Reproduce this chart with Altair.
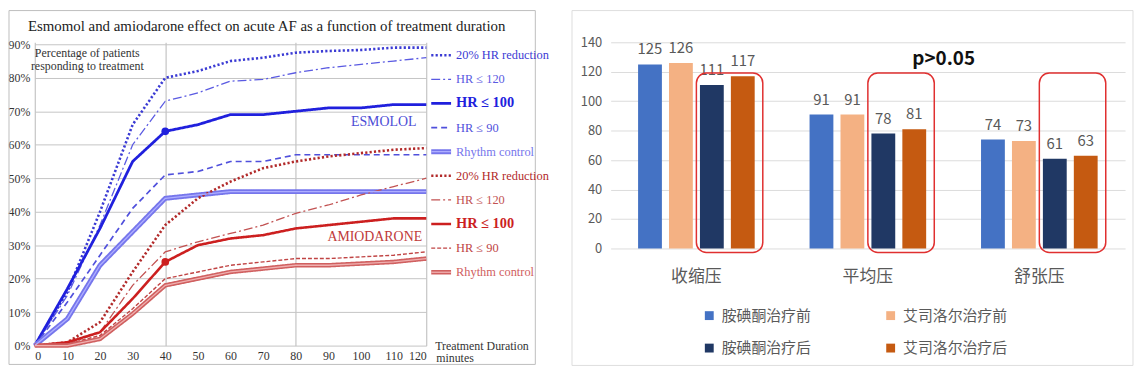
import altair as alt
import pandas as pd

SERIF = "Liberation Serif"
CJK = "Noto Sans CJK SC"

# ---------------- left panel data ----------------
minutes = [0, 10, 20, 30, 40, 50, 60, 70, 80, 90, 100, 110, 120]
esm_hr20 = [0, 16, 40, 66, 80, 82, 85, 86, 87.5, 88, 88.3, 89, 89]
esm_hr120 = [0, 15, 36, 60, 73, 75.5, 79, 79.5, 81.5, 83, 84, 85, 86]
esm_hr100 = [0, 17, 35, 55, 64, 66, 69, 69, 70, 71, 71, 72, 72]
esm_hr90 = [0, 13, 27, 41, 51, 52, 55, 55, 57, 57, 57, 57, 57]
esm_rc = [0, 8, 24, 34, 44, 45, 46, 46, 46, 46, 46, 46, 46]
ami_hr20 = [0, 1, 7, 22, 36, 44, 49, 53, 55, 56.5, 57.5, 58.5, 59]
ami_hr120 = [0, 0.5, 4, 18, 28, 31, 33.5, 36, 39.5, 42, 45, 47.5, 50]
ami_hr100 = [0, 1, 4, 14, 25, 30, 32, 33, 35, 36, 37, 38, 38]
ami_hr90 = [0, 0.5, 3, 11, 20, 22, 24, 25, 26, 26, 26.5, 27, 28]
ami_rc = [0, 0, 2, 9.5, 18, 20, 22, 23, 24, 24, 24.5, 25, 26]

series_keys = ["E20", "E120", "E100", "E90", "ERC", "A20", "A120", "A100", "A90", "ARC"]
series_labels = ["20% HR reduction", "HR ≤ 120", "HR ≤ 100", "HR ≤ 90", "Rhythm control",
                 "20% HR reduction", "HR ≤ 120", "HR ≤ 100", "HR ≤ 90", "Rhythm control"]
series_values = [esm_hr20, esm_hr120, esm_hr100, esm_hr90, esm_rc,
                 ami_hr20, ami_hr120, ami_hr100, ami_hr90, ami_rc]
y_ticks = [0, 10, 20, 30, 40, 50, 60, 70, 80, 90]

line_colors = ["#3b3bd4", "#5a5ae2", "#2020dd", "#5050dc", "#7676ec",
               "#b22a2a", "#c25252", "#cc1f1f", "#c04444", "#d06060"]
line_dashes = [[2.2, 2.2], [9, 3, 2, 3], [1, 0], [6, 4], [1, 0],
               [2.2, 2.2], [9, 3, 2, 3], [1, 0], [4, 2], [1, 0]]
line_widths = [2.6, 1.3, 2.8, 1.7, 5, 2.6, 1.3, 2.6, 1.4, 4.5]

rows = []
for key, vals in zip(series_keys, series_values):
    for m, v in zip(minutes, vals):
        rows.append({"minute": m, "pct": v, "series": key})
lines_df = pd.DataFrame(rows)
legend_df = pd.DataFrame({"series": series_keys, "label": series_labels})
one = pd.DataFrame({"a": [0]})

color_enc = alt.Color("series:N", scale=alt.Scale(domain=series_keys, range=line_colors), legend=None)
dash_enc = alt.StrokeDash("series:N", scale=alt.Scale(domain=series_keys, range=line_dashes), legend=None)
width_enc = alt.StrokeWidth("series:N", scale=alt.Scale(type="ordinal", domain=series_keys, range=line_widths),
                            legend=None)

x_axis = alt.Axis(values=minutes, title=None, labelFont=SERIF, labelFontSize=12,
                  labelColor="#333333", labelPadding=5, domain=False, ticks=False,
                  labelOverlap=False, grid=True, gridColor="#b8b8b8",
                  gridOpacity={"condition": {"test": "datum.value % 40 === 0", "value": 1}, "value": 0})
y_axis = alt.Axis(values=y_ticks, labelExpr="datum.value + '%'", title=None,
                  labelFont=SERIF, labelFontSize=12, labelColor="#333333", labelOverlap=False,
                  domain=False, ticks=False, gridColor="#c4c4c4", labelPadding=5)
x_enc = alt.X("minute:Q", scale=alt.Scale(domain=[0, 120], nice=False, zero=False), axis=x_axis)
y_enc = alt.Y("pct:Q", scale=alt.Scale(domain=[0, 90.6], nice=False), axis=y_axis)

left_border = alt.Chart(one).mark_rect(fill="white", fillOpacity=0, stroke="#bdbdbd", strokeWidth=1).encode(
    x=alt.value(-26), x2=alt.value(505), y=alt.value(-32), y2=alt.value(325))

lines = alt.Chart(lines_df).mark_line(strokeCap="butt").encode(
    x=x_enc, y=y_enc, color=color_enc, strokeDash=dash_enc, strokeWidth=width_enc, detail="series:N")

def rc_overlay(key, col):
    return alt.Chart(lines_df).transform_filter(f"datum.series === '{key}'").mark_line(
        color=col, strokeWidth=1.3).encode(x=x_enc, y=y_enc)

points = alt.Chart(lines_df).transform_filter(
    "datum.minute === 40 && (datum.series === 'E100' || datum.series === 'A100')"
).mark_point(filled=True, size=60, opacity=1).encode(x=x_enc, y=y_enc, color=color_enc)

title = alt.Chart(one).mark_text(
    text="Esmomol and amiodarone effect on acute AF as a function of treatment duration",
    font=SERIF, fontSize=15, color="#222222", align="center", baseline="middle"
).encode(x=alt.value(234), y=alt.value(-16))

corner = alt.Chart(one).mark_text(
    text=["Percentage of patients", "responding to treatment"], lineHeight=13,
    font=SERIF, fontSize=12, color="#333333", align="center", baseline="top"
).encode(x=alt.value(53), y=alt.value(6))

esm_txt = alt.Chart(one).mark_text(text="ESMOLOL", font=SERIF, fontSize=14, color="#4d4dd6",
                                   align="center", baseline="middle").encode(x=alt.value(352), y=alt.value(80))
ami_txt = alt.Chart(one).mark_text(text="AMIODARONE", font=SERIF, fontSize=14, color="#c03a3a",
                                   align="center", baseline="middle").encode(x=alt.value(343), y=alt.value(196))
dur_txt = alt.Chart(one).mark_text(text="Treatment Duration", font=SERIF, fontSize=12, color="#333333",
                                   align="left", baseline="middle").encode(x=alt.value(404), y=alt.value(306))
min_txt = alt.Chart(one).mark_text(text="minutes", font=SERIF, fontSize=12, color="#333333",
                                   align="left", baseline="middle").encode(x=alt.value(405), y=alt.value(319))

main = alt.layer(left_border, lines, rc_overlay("ERC", "#aeaeff"), rc_overlay("ARC", "#f0b0b0"),
                 points, title, corner, esm_txt, ami_txt, dur_txt, min_txt)

legend_y = alt.Y("series:N", scale=alt.Scale(type="point", domain=series_keys, range=[13, 232], padding=0),
                 axis=None)
leg_rules = alt.Chart(legend_df).mark_rule(strokeCap="butt").encode(
    x=alt.value(400), x2=alt.value(420), y=legend_y, color=color_enc, strokeDash=dash_enc, strokeWidth=width_enc)

def leg_overlay(key, col):
    return alt.Chart(legend_df).transform_filter(f"datum.series === '{key}'").mark_rule(
        color=col, strokeWidth=1.3).encode(x=alt.value(400), x2=alt.value(420), y=legend_y)

leg_text = alt.Chart(legend_df).transform_filter(
    "datum.series !== 'E100' && datum.series !== 'A100'").mark_text(
    align="left", baseline="middle", font=SERIF, fontSize=12.5).encode(
    x=alt.value(425), y=legend_y, text="label:N", color=color_enc)
leg_bold = alt.Chart(legend_df).transform_filter(
    "datum.series === 'E100' || datum.series === 'A100'").mark_text(
    align="left", baseline="middle", font=SERIF, fontSize=14.5, fontWeight="bold").encode(
    x=alt.value(425), y=legend_y, text="label:N", color=color_enc)

legend = alt.layer(leg_rules, leg_overlay("ERC", "#aeaeff"), leg_overlay("ARC", "#f0b0b0"), leg_text, leg_bold)

left = alt.layer(main, legend).resolve_scale(y="independent").properties(width=395, height=306)

# ---------------- right panel data ----------------
categories = ["收缩压", "平均压", "舒张压"]
bar_series = ["胺碘酮治疗前", "艾司洛尔治疗前", "胺碘酮治疗后", "艾司洛尔治疗后"]
ami_before = [125, 91, 74]
esm_before = [126, 91, 73]
ami_after = [111, 78, 61]
esm_after = [117, 81, 63]
bar_colors = ["#4472C4", "#F4B183", "#203864", "#C55A11"]
bar_ticks = [0, 20, 40, 60, 80, 100, 120, 140]

brows = []
for s, vals in zip(bar_series, [ami_before, esm_before, ami_after, esm_after]):
    for c, v in zip(categories, vals):
        brows.append({"category": c, "series": s, "value": v})
bars_df = pd.DataFrame(brows)
box_df = pd.DataFrame({"category": categories})

bx_axis = alt.Axis(title=None, labelAngle=0, labelFont=CJK, labelFontSize=17, labelColor="#595959",
                   labelPadding=20, domain=False, ticks=False, grid=False)
by_axis = alt.Axis(values=bar_ticks, title=None, labelFont=CJK, labelFontSize=13, labelColor="#595959",
                   labelOverlap=False, labelPadding=9, domain=False, ticks=False, gridColor="#dcdcdc")
bx = alt.X("category:N", sort=categories, scale=alt.Scale(paddingInner=0.32, paddingOuter=0.16), axis=bx_axis)
bxo = alt.XOffset("series:N", sort=bar_series, scale=alt.Scale(paddingInner=0.23, paddingOuter=0))
by = alt.Y("value:Q", scale=alt.Scale(domain=[0, 140], nice=False), axis=by_axis)
bcolor = alt.Color("series:N", sort=bar_series, scale=alt.Scale(domain=bar_series, range=bar_colors),
                   legend=alt.Legend(title=None, orient="none", legendX=92, legendY=268, columns=2,
                                     direction="horizontal",
                                     symbolType="square", symbolSize=80, symbolStrokeWidth=0,
                                     labelFont=CJK, labelFontSize=15, labelColor="#595959",
                                     rowPadding=17, columnPadding=72, labelOffset=5))

right_border = alt.Chart(one).mark_rect(fill="white", fillOpacity=0, stroke="#dedede", strokeWidth=1).encode(
    x=alt.value(-39), x2=alt.value(527), y=alt.value(-32), y2=alt.value(326))

bars = alt.Chart(bars_df).mark_bar().encode(x=bx, xOffset=bxo, y=by, color=bcolor)
labels = alt.Chart(bars_df).mark_text(baseline="bottom", dy=-7, font=CJK, fontSize=15, color="#595959").encode(
    x=bx, xOffset=bxo, y=by, text="value:Q")
boxes = alt.Chart(box_df).mark_bar(width=67, xOffset=33.5, fill="white", fillOpacity=0, stroke="#e03030",
                                   strokeWidth=1.5, cornerRadius=10).encode(
    x=bx, y=alt.value(31), y2=alt.value(212))
ptext = alt.Chart(one).mark_text(text="p>0.05", font=CJK, fontSize=19, fontWeight="bold", color="#111111",
                                 align="center", baseline="middle").encode(x=alt.value(336), y=alt.value(17))

right = alt.layer(right_border, bars, labels, boxes, ptext).properties(width=519, height=208)

chart = alt.hconcat(left, right, spacing=22).properties(padding=0).resolve_scale(
    color="independent", strokeDash="independent", strokeWidth="independent", y="independent",
    x="independent", xOffset="independent"
).configure_view(stroke=None)

chart.save("out.html", embed_options={"renderer": "svg", "actions": False})
